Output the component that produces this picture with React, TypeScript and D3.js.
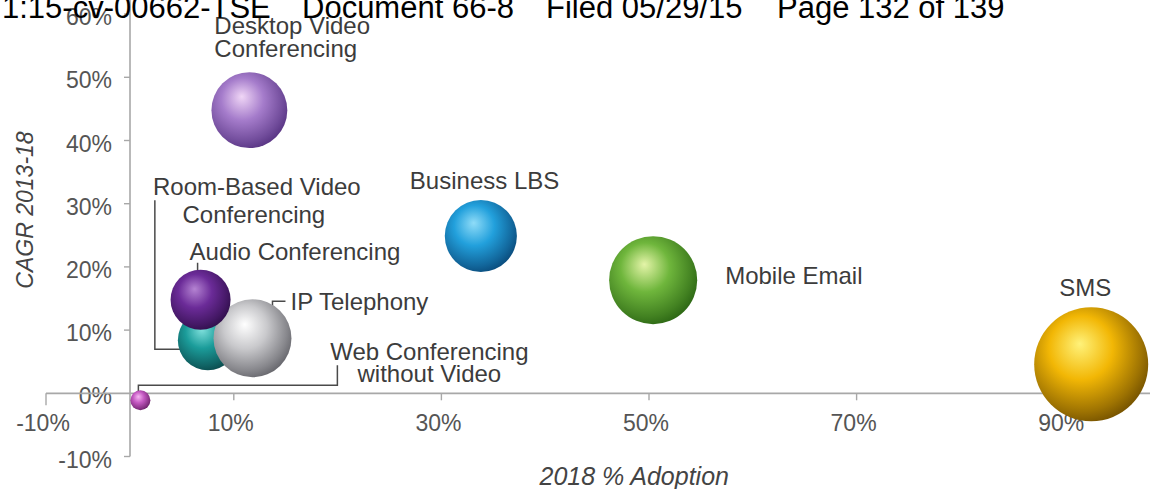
import React from "react";
import * as d3 from "d3";

// ---- data ----
const categories = [
  "Room-Based Video Conferencing",
  "IP Telephony",
  "Audio Conferencing",
  "Desktop Video Conferencing",
  "Business LBS",
  "Mobile Email",
  "SMS",
  "Web Conferencing without Video",
];
const adoption2018 = [7.5, 11.8, 6.8, 11.5, 33.8, 50.4, 92.6, 1.0]; // x, %
const cagr1318 = [8.4, 8.7, 14.8, 44.8, 24.9, 17.9, 4.6, -1.1]; // y, %
const bubbleSize = [9, 15.2, 9, 14.4, 13, 19.4, 32.5, 1]; // relative area

const yTicks = [60, 50, 40, 30, 20, 10, 0, -10];
const xTicks = [-10, 10, 30, 50, 70, 90];

// ---- styles ----
const palette: Record<string, [string, string, string]> = {
  "Room-Based Video Conferencing": ["#7fe0dc", "#1b9c9a", "#0b4e50"],
  "IP Telephony": ["#ffffff", "#c9c9cc", "#6a6a70"],
  "Audio Conferencing": ["#b483d2", "#6b2b98", "#33104f"],
  "Desktop Video Conferencing": ["#f0d6f6", "#a57ccb", "#5b3786"],
  "Business LBS": ["#8fdcf8", "#22a0dc", "#0b4f80"],
  "Mobile Email": ["#e4f4a8", "#6fb63c", "#2f6a16"],
  SMS: ["#fff27a", "#f2b705", "#7a5600"],
  "Web Conferencing without Video": ["#f6b6f2", "#c458c2", "#6e226c"],
};

const W = 1150;
const H = 489;
const FONT = "'Liberation Sans', Arial, Helvetica, sans-serif";

export default function App() {
  const x = d3.scaleLinear().domain([-10, 0, 100]).range([46, 130, 1168]);
  const y = d3.scaleLinear().domain([-10, 60]).range([456.5, 14.1]);
  const r = d3.scaleSqrt().domain([0, 32.5]).range([0, 57]);

  const data = categories.map((c, i) => ({
    name: c,
    x: adoption2018[i],
    y: cagr1318[i],
    s: bubbleSize[i],
  }));
  const byName = (n: string) => data.find((d) => d.name === n)!;
  const pos = (n: string) => [x(byName(n).x), y(byName(n).y)];

  const labelColor = "#3c3c3c";
  const tickColor = "#555";
  const axisColor = "#a8a8a8";
  const leader = "#4a4a4a";

  const line = d3.line<[number, number]>();

  const room = pos("Room-Based Video Conferencing");
  const ip = pos("IP Telephony");
  const audio = pos("Audio Conferencing");
  const desk = pos("Desktop Video Conferencing");
  const lbs = pos("Business LBS");
  const mob = pos("Mobile Email");
  const sms = pos("SMS");
  const web = pos("Web Conferencing without Video");

  return (
    <svg
      width={W}
      height={H}
      style={{ position: "absolute", left: 0, top: 0, display: "block", background: "#fff" }}
      fontFamily={FONT}
    >
      <defs>
        {data.map((d, i) => {
          const [hi, mid, lo] = palette[d.name];
          return (
            <radialGradient key={i} id={`g${i}`} cx="42%" cy="40%" r="62%" fx="40%" fy="32%">
              <stop offset="0%" stopColor={hi} />
              <stop offset="45%" stopColor={mid} />
              <stop offset="85%" stopColor={d3.interpolateRgb(mid, lo)(0.7)} />
              <stop offset="100%" stopColor={lo} />
            </radialGradient>
          );
        })}
      </defs>

      {/* y axis */}
      <line x1={x(0)} x2={x(0)} y1={0} y2={y(-10)} stroke={axisColor} strokeWidth={1.6} />
      {yTicks.map((t) => (
        <g key={t}>
          {t !== 0 && (
            <line x1={x(0) - 6} x2={x(0)} y1={y(t)} y2={y(t)} stroke={axisColor} strokeWidth={1.4} />
          )}
          <text
            x={112}
            y={y(t) + 11}
            textAnchor="end"
            fontSize={23}
            fill={tickColor}
          >
            {`${t}%`}
          </text>
        </g>
      ))}

      {/* x axis */}
      <line x1={x(-10)} x2={W} y1={y(0)} y2={y(0)} stroke={axisColor} strokeWidth={1.8} />
      {xTicks.map((t) => (
        <g key={t}>
          <line
            x1={x(t)}
            x2={x(t)}
            y1={y(0)}
            y2={y(0) + (t === -10 ? 12 : 7)}
            stroke={axisColor}
            strokeWidth={1.4}
          />
          <text x={x(t) - 3} y={431} textAnchor="middle" fontSize={23} fill={tickColor}>
            {`${t}%`}
          </text>
        </g>
      ))}

      {/* axis titles */}
      <text
        transform={`translate(33,210) rotate(-90)`}
        textAnchor="middle"
        fontSize={23}
        fontStyle="italic"
        fill="#444"
      >
        CAGR 2013-18
      </text>
      <text x={729} y={485} textAnchor="end" fontSize={25} fontStyle="italic" fill="#444">
        2018 % Adoption
      </text>

      {/* leader lines */}
      <g fill="none" stroke={leader} strokeWidth={1.5}>
        <path
          d={line([
            [room[0] - 53, room[1] - 140],
            [room[0] - 53, room[1] + 9],
            [room[0] - 25, room[1] + 9],
          ])!}
        />
        <path d={line([[audio[0] - 3, audio[1] - 37], [audio[0] - 3, audio[1] - 18]])!} />
        <path
          d={line([
            [ip[0] + 33, ip[1] - 37],
            [ip[0] + 20, ip[1] - 37],
            [ip[0] + 20, ip[1] - 8],
          ])!}
        />
        <path
          d={line([
            [web[0] - 2, web[1] - 6],
            [web[0] - 2, web[1] - 15],
            [web[0] + 197, web[1] - 15],
            [web[0] + 197, web[1] - 35],
          ])!}
        />
      </g>

      {/* bubbles */}
      {data.map((d, i) => (
        <circle key={d.name} cx={x(d.x)} cy={y(d.y)} r={r(d.s)} fill={`url(#g${i})`} />
      ))}

      {/* labels */}
      <g fontSize={24} fill={labelColor}>
        <text x={desk[0] - 35} y={desk[1] - 76}>Desktop Video</text>
        <text x={desk[0] - 35} y={desk[1] - 53}>Conferencing</text>

        <text x={room[0] + 49} y={room[1] - 145} textAnchor="middle">Room-Based Video</text>
        <text x={room[0] + 46} y={room[1] - 117} textAnchor="middle">Conferencing</text>

        <text x={audio[0] - 11} y={audio[1] - 40}>Audio Conferencing</text>
        <text x={ip[0] + 38} y={ip[1] - 28}>IP Telephony</text>

        <text x={web[0] + 289} y={web[1] - 40} textAnchor="middle">Web Conferencing</text>
        <text x={web[0] + 289} y={web[1] - 18} textAnchor="middle">without Video</text>

        <text x={lbs[0] - 71} y={lbs[1] - 47}>Business LBS</text>
        <text x={mob[0] + 72} y={mob[1] + 4}>Mobile Email</text>
        <text x={sms[0] - 6} y={sms[1] - 68} textAnchor="middle">SMS</text>
      </g>

      {/* page header overlay */}
      <g fontSize={31} fill="#000" fontFamily={FONT}>
        <text x={2} y={17.5}>1:15-cv-00662-TSE</text>
        <text x={302} y={17.5}>Document 66-8</text>
        <text x={546} y={17.5}>Filed 05/29/15</text>
        <text x={777} y={17.5}>Page 132 of 139</text>
      </g>
    </svg>
  );
}
